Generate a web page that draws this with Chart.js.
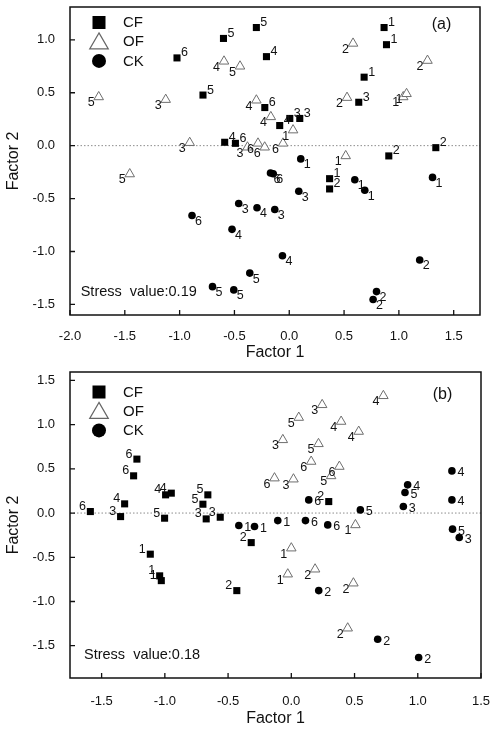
<!DOCTYPE html>
<html>
<head>
<meta charset="utf-8">
<script src="https://cdn.jsdelivr.net/npm/chart.js@4.4.0/dist/chart.umd.min.js"></script>
<style>
  body { margin: 0; background: #fff; width: 491px; height: 729px; overflow: hidden; position: relative; }
  canvas { position: absolute; left: 0; }
  #chartA { top: 0; }
  #chartB { top: 362px; }
</style>
</head>
<body>
<canvas id="chartA" width="491" height="368" style="width:491px;height:368px"></canvas>
<canvas id="chartB" width="491" height="367" style="width:491px;height:367px"></canvas>
<script>
// [factor1, factor2, treatment]
const cfA = [
  [0.865, 1.116, 1], [0.887, 0.954, 1], [0.683, 0.647, 1], [0.368, -0.312, 1],
  [1.337, -0.019, 2], [0.908, -0.097, 2], [0.368, -0.409, 2],
  [0.634, 0.41, 3], [0.005, 0.257, 3], [0.096, 0.257, 3],
  [-0.208, 0.841, 4], [-0.087, 0.19, 4], [-0.589, 0.032, 4],
  [-0.6, 1.013, 5], [-0.3, 1.116, 5], [-0.787, 0.478, 5],
  [-1.024, 0.829, 6], [-0.223, 0.36, 6], [-0.491, 0.022, 6]
];
const ofA = [
  [1.04, 0.46, 1], [1.07, 0.49, 1], [0.515, -0.097, 1], [0.035, 0.147, 1],
  [0.582, 0.966, 2], [1.261, 0.804, 2], [0.527, 0.454, 2],
  [-1.127, 0.435, 3], [-0.908, 0.028, 3], [-0.381, -0.015, 3],
  [-0.595, 0.797, 4], [-0.3, 0.429, 4], [-0.168, 0.272, 4],
  [-0.449, 0.75, 5], [-1.738, 0.46, 5], [-1.455, -0.268, 5],
  [-0.285, 0.022, 6], [-0.224, -0.015, 6], [-0.057, 0.022, 6]
];
const ckA = [
  [0.105, -0.125, 1], [0.598, -0.322, 1], [0.689, -0.422, 1], [1.307, -0.3, 1],
  [1.19, -1.08, 2], [0.796, -1.379, 2], [0.765, -1.454, 2],
  [0.087, -0.431, 3], [-0.132, -0.603, 3], [-0.461, -0.547, 3],
  [-0.294, -0.587, 4], [-0.062, -1.04, 4], [-0.522, -0.791, 4],
  [-0.36, -1.204, 5], [-0.7, -1.332, 5], [-0.506, -1.363, 5],
  [-0.171, -0.259, 6], [-0.146, -0.265, 6], [-0.887, -0.66, 6]
];

const cfB = [
  [-1.115, -0.465, 1], [-1.041, -0.71, 1], [-1.028, -0.764, 1],
  [-0.317, -0.334, 2], [-0.431, -0.877, 2], [0.296, 0.13, 2],
  [-1.35, -0.04, 3], [-0.673, -0.066, 3], [-0.562, -0.047, 3],
  [-1.318, 0.104, 4], [-0.994, 0.206, 4], [-0.949, 0.225, 4],
  [-1.002, -0.058, 5], [-0.66, 0.206, 5], [-0.699, 0.1, 5],
  [-1.221, 0.61, 6], [-1.247, 0.421, 6], [-1.589, 0.017, 6]
];
const ofB = [
  [0.507, -0.134, 1], [0.0, -0.397, 1], [-0.028, -0.691, 1],
  [0.188, -0.635, 2], [0.491, -0.793, 2], [0.446, -1.302, 2],
  [0.244, 1.224, 3], [-0.067, 0.828, 3], [0.017, 0.383, 3],
  [0.728, 1.326, 4], [0.394, 1.035, 4], [0.533, 0.922, 4],
  [0.059, 1.08, 5], [0.215, 0.783, 5], [0.315, 0.42, 5],
  [0.157, 0.583, 6], [0.38, 0.526, 6], [-0.133, 0.395, 6]
];
const ckB = [
  [-0.415, -0.141, 1], [-0.291, -0.152, 1], [-0.107, -0.085, 1],
  [0.217, -0.877, 2], [0.683, -1.427, 2], [1.007, -1.634, 2],
  [0.886, 0.074, 3], [1.328, -0.277, 3],
  [0.92, 0.319, 4], [1.27, 0.477, 4], [1.27, 0.149, 4],
  [0.546, 0.036, 5], [0.899, 0.232, 5], [1.275, -0.182, 5],
  [0.138, 0.149, 6], [0.112, -0.085, 6], [0.288, -0.134, 6]
];

const seriesNames = ["CF", "OF", "CK"];
const xTicksA = [-2.0, -1.5, -1.0, -0.5, 0.0, 0.5, 1.0, 1.5];
const yTicksA = [-1.5, -1.0, -0.5, 0.0, 0.5, 1.0];
const xTicksB = [-1.5, -1.0, -0.5, 0.0, 0.5, 1.0, 1.5];
const yTicksB = [-1.5, -1.0, -0.5, 0.0, 0.5, 1.0, 1.5];

Chart.defaults.font.family = '"Liberation Sans", Arial, sans-serif';
Chart.defaults.color = "#111";

const labelOffsets = {
  ur: [4, -5, "left"], ul: [-4.5, -5, "right"],
  dl: [-4, 6, "right"], dr: [3, 6, "left"], r: [5.5, 2, "left"]
};

function drawMarker(ctx, style, x, y, s) {
  ctx.beginPath();
  if (style === "rect") {
    ctx.fillStyle = "#000";
    ctx.fillRect(x - s / 2, y - s / 2, s, s);
  } else if (style === "triangle") {
    ctx.fillStyle = "#fff";
    ctx.strokeStyle = "#666";
    ctx.lineWidth = 1.2;
    ctx.moveTo(x, y - s * 0.55);
    ctx.lineTo(x + s * 0.58, y + s * 0.45);
    ctx.lineTo(x - s * 0.58, y + s * 0.45);
    ctx.closePath();
    ctx.fill();
    ctx.stroke();
  } else {
    ctx.fillStyle = "#000";
    ctx.arc(x, y, s / 2, 0, Math.PI * 2);
    ctx.fill();
  }
}

const decor = {
  id: "decor",
  beforeDatasetsDraw(chart, args, o) {
    const ctx = chart.ctx, a = chart.chartArea;
    const y0 = chart.scales.y.getPixelForValue(0);
    ctx.save();
    ctx.strokeStyle = "#8c8c8c";
    ctx.lineWidth = 1;
    ctx.setLineDash([1.5, 2]);
    ctx.beginPath();
    ctx.moveTo(a.left, y0);
    ctx.lineTo(a.right, y0);
    ctx.stroke();
    ctx.restore();
  },
  afterDatasetsDraw(chart, args, o) {
    const ctx = chart.ctx, a = chart.chartArea;
    ctx.save();
    // point labels
    ctx.font = '12.5px "Liberation Sans", Arial, sans-serif';
    ctx.fillStyle = "#111";
    ctx.textBaseline = "middle";
    chart.data.datasets.forEach((ds, di) => {
      const meta = chart.getDatasetMeta(di);
      const off = labelOffsets[ds.labelDir];
      ctx.textAlign = off[2];
      meta.data.forEach((pt, i) => {
        ctx.fillText(String(ds.data[i].t), pt.x + off[0], pt.y + off[1]);
      });
    });

    // frame
    ctx.strokeStyle = "#111";
    ctx.lineWidth = 1.5;
    ctx.strokeRect(a.left, a.top, a.right - a.left, a.bottom - a.top);

    // inward ticks
    ctx.lineWidth = 1.3;
    ctx.beginPath();
    chart.scales.x.ticks.forEach(t => {
      const x = chart.scales.x.getPixelForValue(t.value);
      ctx.moveTo(x, a.bottom);
      ctx.lineTo(x, a.bottom - 5);
    });
    chart.scales.y.ticks.forEach(t => {
      const y = chart.scales.y.getPixelForValue(t.value);
      ctx.moveTo(a.left, y);
      ctx.lineTo(a.left + 5, y);
    });
    ctx.stroke();

    // legend
    const styles = ["rect", "triangle", "circle"];
    const sizes = [13, 16, 14];
    ctx.font = '15px "Liberation Sans", Arial, sans-serif';
    ctx.textAlign = "left";
    ctx.textBaseline = "middle";
    seriesNames.forEach((name, i) => {
      const y = a.top + o.legendTop + i * 19.2;
      drawMarker(ctx, styles[i], a.left + 29, y, sizes[i]);
      ctx.fillStyle = "#111";
      ctx.fillText(name, a.left + 53, y + 0.5);
    });

    // panel label
    ctx.font = '16px "Liberation Sans", Arial, sans-serif';
    ctx.textAlign = "center";
    ctx.fillText(o.panel, a.right - 38.5, a.top + o.panelTop);

    // stress value
    ctx.font = '14.5px "Liberation Sans", Arial, sans-serif';
    ctx.textAlign = "left";
    ctx.fillText(o.stress, a.left + o.stressLeft, a.bottom - o.stressUp);
    ctx.restore();
  }
};

function toPoints(rows) {
  return rows.map(r => ({ x: r[0], y: r[1], t: r[2] }));
}

function noPad(s) {
  s.paddingTop = 0;
  s.paddingBottom = 0;
  s.paddingLeft = 0;
  s.paddingRight = 0;
}

function makeChart(id, cf, of, ck, cfg) {
  return new Chart(document.getElementById(id), {
    type: "scatter",
    data: {
      datasets: [
        { label: "CF", data: toPoints(cf), pointStyle: "rect", pointRadius: 5,
          backgroundColor: "#000", borderColor: "#000", borderWidth: 0, labelDir: cfg.dirs[0] },
        { label: "OF", data: toPoints(of), pointStyle: "triangle", pointRadius: 5.5,
          backgroundColor: "#fff", borderColor: "#6e6e6e", borderWidth: 1, labelDir: cfg.dirs[1] },
        { label: "CK", data: toPoints(ck), pointStyle: "circle", pointRadius: 3.8,
          backgroundColor: "#000", borderColor: "#000", borderWidth: 0, labelDir: cfg.dirs[2] }
      ]
    },
    options: {
      responsive: false,
      animation: false,
      events: [],
      layout: { padding: { top: cfg.padTop, right: cfg.padRight, left: 0, bottom: 0 } },
      plugins: {
        legend: { display: false },
        tooltip: { enabled: false },
        decor: cfg
      },
      scales: {
        x: {
          type: "linear",
          min: cfg.xMin, max: cfg.xMax,
          afterBuildTicks: s => { s.ticks = cfg.xTicks.map(v => ({ value: v })); },
          afterFit: s => { s.height = cfg.xAxisH; noPad(s); },
          grid: { display: false },
          border: { display: false },
          ticks: { font: { size: 13 }, color: "#111", padding: cfg.xTickPad, maxRotation: 0, autoSkip: false,
                   callback: v => Number(v).toFixed(1) },
          title: { display: true, text: "Factor 1", font: { size: 16 }, color: "#111",
                   padding: { top: 0, bottom: cfg.xTitlePad } }
        },
        y: {
          type: "linear",
          min: cfg.yMin, max: cfg.yMax,
          afterBuildTicks: s => { s.ticks = cfg.yTicks.map(v => ({ value: v })); },
          afterFit: s => { s.width = 70; noPad(s); },
          grid: { display: false },
          border: { display: false },
          ticks: { font: { size: 13 }, color: "#111", padding: 7, autoSkip: false,
                   callback: v => Number(v).toFixed(1) },
          title: { display: true, text: "Factor 2", font: { size: 16 }, color: "#111",
                   padding: { top: 4, bottom: 0 } }
        }
      }
    },
    plugins: [decor]
  });
}

makeChart("chartA", cfA, ofA, ckA, {
  xMin: -2.0, xMax: 1.74, yMin: -1.6, yMax: 1.31,
  xTicks: xTicksA, yTicks: yTicksA,
  padTop: 7, padRight: 11, xAxisH: 53, xTickPad: 6, xTitlePad: 5.5,
  dirs: ["ur", "dl", "dr"],
  legendTop: 15.5, panel: "(a)", panelTop: 18,
  stress: "Stress  value:0.19", stressLeft: 10.7, stressUp: 23.3
});

makeChart("chartB", cfB, ofB, ckB, {
  xMin: -1.75, xMax: 1.5, yMin: -1.865, yMax: 1.595,
  xTicks: xTicksB, yTicks: yTicksB,
  padTop: 10, padRight: 10, xAxisH: 51, xTickPad: 8, xTitlePad: 1.2,
  dirs: ["ul", "dl", "r"],
  legendTop: 20, panel: "(b)", panelTop: 23,
  stress: "Stress  value:0.18", stressLeft: 14, stressUp: 23
});
</script>
</body>
</html>
